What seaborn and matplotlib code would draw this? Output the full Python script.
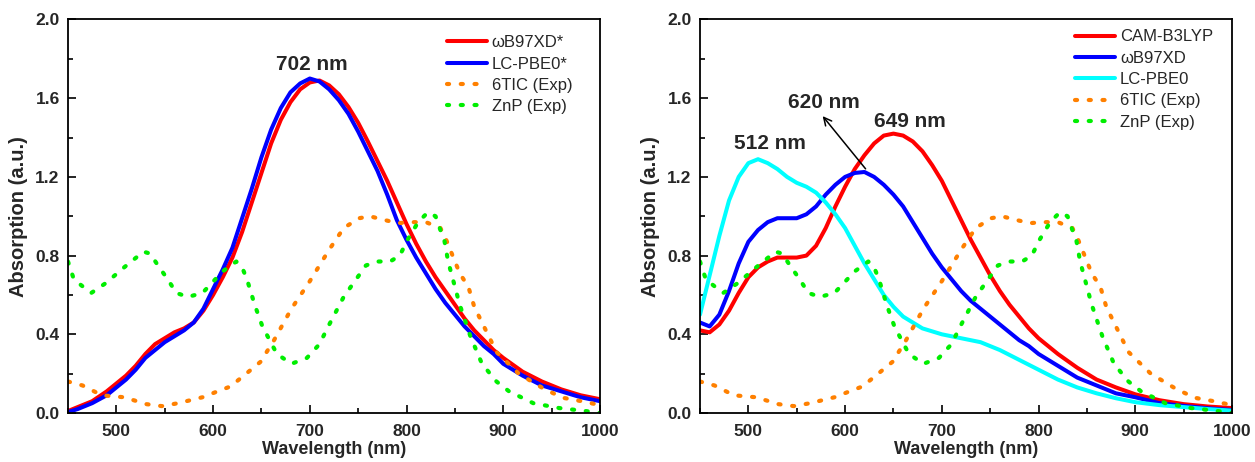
import numpy as np
import pandas as pd
import matplotlib
matplotlib.use("Agg")
import matplotlib.pyplot as plt
import seaborn as sns
from matplotlib.ticker import MultipleLocator

# ---------------- data ----------------
# Left panel (starred functionals)
left_nm = [450, 460, 475, 490, 500, 510, 520, 530, 540, 550, 560, 570, 580, 590,
           600, 610, 620, 630, 640, 650, 660, 670, 680, 690, 700, 710, 720, 730,
           740, 750, 760, 770, 780, 790, 800, 810, 820, 830, 840, 850, 860, 870,
           880, 890, 900, 920, 940, 960, 980, 1000]
wb97xd_star = [0.01, 0.03, 0.06, 0.11, 0.15, 0.19, 0.24, 0.30, 0.35, 0.38, 0.41, 0.43,
               0.46, 0.52, 0.60, 0.69, 0.79, 0.92, 1.07, 1.22, 1.37, 1.49, 1.58, 1.645,
               1.68, 1.69, 1.665, 1.62, 1.555, 1.475, 1.38, 1.28, 1.18, 1.07, 0.96, 0.86,
               0.77, 0.69, 0.62, 0.55, 0.48, 0.42, 0.37, 0.32, 0.28, 0.21, 0.16, 0.12,
               0.09, 0.07]
lcpbe0_star = [0.005, 0.02, 0.05, 0.09, 0.13, 0.17, 0.22, 0.28, 0.32, 0.36, 0.39, 0.42,
               0.46, 0.53, 0.63, 0.73, 0.84, 0.99, 1.14, 1.30, 1.44, 1.55, 1.63, 1.675,
               1.70, 1.685, 1.645, 1.59, 1.52, 1.43, 1.33, 1.23, 1.11, 0.98, 0.88, 0.79,
               0.71, 0.63, 0.56, 0.50, 0.44, 0.39, 0.34, 0.30, 0.25, 0.19, 0.14, 0.11,
               0.08, 0.06]

# Right panel
right_nm = [450, 460, 470, 480, 490, 500, 510, 520, 530, 540, 550, 560, 570, 580,
            590, 600, 610, 620, 630, 640, 650, 660, 670, 680, 690, 700, 710, 720,
            730, 740, 750, 760, 770, 780, 790, 800, 820, 840, 860, 880, 900, 925,
            950, 975, 1000]
cam_b3lyp = [0.42, 0.41, 0.45, 0.52, 0.61, 0.69, 0.74, 0.77, 0.79, 0.79, 0.79, 0.80,
             0.85, 0.94, 1.05, 1.15, 1.24, 1.31, 1.37, 1.41, 1.42, 1.41, 1.38, 1.33,
             1.26, 1.18, 1.08, 0.98, 0.88, 0.79, 0.70, 0.62, 0.55, 0.49, 0.43, 0.38,
             0.30, 0.23, 0.17, 0.13, 0.095, 0.065, 0.045, 0.033, 0.025]
wb97xd = [0.46, 0.44, 0.50, 0.62, 0.76, 0.87, 0.93, 0.97, 0.99, 0.99, 0.99, 1.01,
          1.05, 1.11, 1.16, 1.20, 1.22, 1.225, 1.20, 1.16, 1.11, 1.05, 0.97, 0.89,
          0.81, 0.74, 0.68, 0.62, 0.57, 0.53, 0.49, 0.45, 0.41, 0.37, 0.34, 0.30,
          0.24, 0.18, 0.14, 0.10, 0.08, 0.05, 0.036, 0.024, 0.015]
lcpbe0 = [0.50, 0.70, 0.90, 1.08, 1.20, 1.27, 1.29, 1.27, 1.24, 1.20, 1.17, 1.15,
          1.12, 1.07, 1.01, 0.94, 0.85, 0.76, 0.68, 0.60, 0.54, 0.49, 0.46, 0.43,
          0.415, 0.40, 0.39, 0.38, 0.37, 0.36, 0.34, 0.32, 0.295, 0.27, 0.245, 0.22,
          0.17, 0.13, 0.10, 0.075, 0.055, 0.04, 0.03, 0.02, 0.012]

# Experimental spectra (same in both panels)
tic_nm = [450, 465, 485, 508, 531, 547, 564, 589, 602, 618, 633, 649, 663, 681,
          700, 720, 735, 751, 762, 778, 791, 805, 820, 835, 841, 855, 864, 870,
          881, 893, 916, 943, 962, 981, 1000]
tic_abs = [0.16, 0.14, 0.09, 0.08, 0.045, 0.035, 0.05, 0.08, 0.105, 0.135, 0.195,
           0.26, 0.37, 0.53, 0.67, 0.83, 0.94, 0.99, 1.00, 0.98, 0.965, 0.97, 0.97,
           0.94, 0.88, 0.71, 0.64, 0.54, 0.43, 0.31, 0.20, 0.12, 0.077, 0.06, 0.04]
znp_nm = [450, 456, 466, 474, 489, 508, 528, 535, 543, 553, 562, 574, 589, 610,
          624, 630, 635, 643, 651, 666, 681, 697, 710, 718, 735, 758, 770, 783,
          793, 801, 812, 822, 830, 835, 839, 843, 849, 855, 866, 878, 893, 906,
          931, 958, 985, 1000]
znp_abs = [0.77, 0.68, 0.64, 0.61, 0.66, 0.74, 0.82, 0.81, 0.75, 0.68, 0.61, 0.59,
           0.61, 0.72, 0.77, 0.74, 0.68, 0.55, 0.44, 0.30, 0.25, 0.28, 0.35, 0.43,
           0.59, 0.75, 0.77, 0.77, 0.80, 0.88, 0.97, 1.02, 1.00, 0.93, 0.88, 0.77,
           0.66, 0.55, 0.39, 0.25, 0.16, 0.11, 0.05, 0.025, 0.01, 0.0]

x_ticks = [500, 600, 700, 800, 900, 1000]
y_ticks = [0.0, 0.4, 0.8, 1.2, 1.6, 2.0]

# ---------------- style ----------------
sns.set_style("ticks")
plt.rcParams['font.family'] = ['Liberation Sans', 'DejaVu Sans']

RED = "#FF0000"
BLUE = "#0000FF"
CYAN = "#00FFFF"
ORANGE = "#FF8000"
GREEN = "#00EE00"

W, H = 1255, 462
fig = plt.figure(figsize=(W / 100, H / 100), dpi=100)
ax1 = fig.add_axes([68 / W, 49 / H, 532 / W, 393.5 / H])
ax2 = fig.add_axes([700 / W, 49 / H, 532 / W, 393.5 / H])

solid_kw = dict(linewidth=2.9, solid_capstyle="round", solid_joinstyle="round")
dot_kw = dict(linewidth=3.0, linestyle=(0, (0.5, 2.8)), dash_capstyle="round")


def draw(ax, x, y, color, label, kw):
    sns.lineplot(x=x, y=y, ax=ax, color=color, label=label, sort=False,
                 estimator=None, **kw)


draw(ax1, left_nm, wb97xd_star, RED, "\u03c9B97XD*", solid_kw)
draw(ax1, left_nm, lcpbe0_star, BLUE, "LC-PBE0*", solid_kw)
draw(ax1, tic_nm, tic_abs, ORANGE, "6TIC (Exp)", dot_kw)
draw(ax1, znp_nm, znp_abs, GREEN, "ZnP (Exp)", dot_kw)

draw(ax2, right_nm, cam_b3lyp, RED, "CAM-B3LYP", solid_kw)
draw(ax2, right_nm, wb97xd, BLUE, "\u03c9B97XD", solid_kw)
draw(ax2, right_nm, lcpbe0, CYAN, "LC-PBE0", solid_kw)
draw(ax2, tic_nm, tic_abs, ORANGE, "6TIC (Exp)", dot_kw)
draw(ax2, znp_nm, znp_abs, GREEN, "ZnP (Exp)", dot_kw)

for ax, lx, ly in [(ax1, 0.712, 0.96), (ax2, 0.705, 0.975)]:
    ax.set_xlim(450, 1000)
    ax.set_ylim(0, 2.0)
    ax.xaxis.set_minor_locator(MultipleLocator(50))
    ax.yaxis.set_minor_locator(MultipleLocator(0.2))
    ax.tick_params(which="both", direction="in", top=False, right=False,
                   width=1.2, color="black")
    ax.tick_params(which="major", length=6)
    ax.tick_params(axis="x", which="major", pad=8)
    ax.tick_params(axis="y", which="major", pad=6)
    ax.tick_params(which="minor", length=3.5)
    ax.set_xticks(x_ticks)
    ax.set_xticklabels([str(v) for v in x_ticks], fontweight="bold", fontsize=12.5)
    ax.set_yticks(y_ticks)
    ax.set_yticklabels([f"{v:.1f}" for v in y_ticks], fontweight="bold", fontsize=12.5)
    for s in ax.spines.values():
        s.set_linewidth(1.3)
        s.set_color("black")
    ax.set_xlabel("Wavelength (nm)", fontsize=13, fontweight="bold", labelpad=1)
    ax.set_ylabel("Absorption (a.u.)", fontsize=14.5, fontweight="bold", labelpad=5)
    ax.legend(loc="upper left", bbox_to_anchor=(lx, ly), frameon=False,
              fontsize=12, handlelength=2.4, handletextpad=0.3,
              labelspacing=0.38, borderpad=0, borderaxespad=0)

ax1.text(702, 1.77, "702 nm", ha="center", va="center", fontsize=15,
         fontweight="bold")
ax2.text(522, 1.37, "512 nm", ha="center", va="center", fontsize=15,
         fontweight="bold")
ax2.text(578, 1.58, "620 nm", ha="center", va="center", fontsize=15,
         fontweight="bold")
ax2.text(667, 1.48, "649 nm", ha="center", va="center", fontsize=15,
         fontweight="bold")
ax2.annotate("", xy=(575, 1.52), xytext=(623, 1.23),
             arrowprops=dict(arrowstyle="->", color="black", lw=1.1,
                             mutation_scale=14))

fig.savefig("out.png", dpi=100, facecolor="white")
